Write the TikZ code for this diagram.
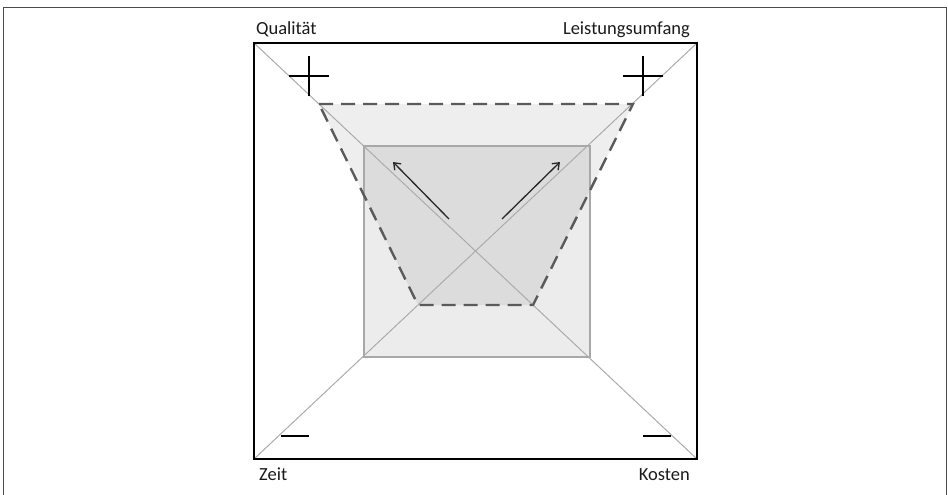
\documentclass[tikz,border=0pt]{standalone}
\usepackage{fontspec}
\setmainfont{Carlito}
\usetikzlibrary{arrows.meta}
\definecolor{diag}{HTML}{ABABAB}
\definecolor{rectborder}{HTML}{A8A8A8}
\definecolor{dashcol}{HTML}{5A5A5A}
\definecolor{txt}{HTML}{1A1A1A}
\tikzset{
  lbl/.style={inner sep=0pt, font=\fontsize{18.5}{21}\selectfont, text=txt},
  diagline/.style={draw=diag, line width=1pt},
  dashline/.style={draw=dashcol, line width=2.4pt, dash pattern=on 14pt off 8pt},
  arr/.style={draw=black!85, line width=1.3pt, -{Straight Barb[length=6pt,width=9pt]}},
  sign/.style={draw=black, line width=2.2pt},
}
\begin{document}
\begin{tikzpicture}[x=1pt,y=-1pt]
\useasboundingbox (0,0) rectangle (948,495);
% image frame
\draw[black!70, line width=1.2pt] (3.5,500) -- (3.5,7.5) -- (946.5,7.5) -- (946.5,500);
% outer square corners
\coordinate (TL) at (254,43);
\coordinate (TR) at (697,43);
\coordinate (BL) at (254,459);
\coordinate (BR) at (697,459);
% inner rectangle
\coordinate (iTL) at (364,146);
\coordinate (iBR) at (590,357);
% dashed trapezoid (vertices on diagonals)
\coordinate (pTL) at (319,104);
\coordinate (pTR) at (633,104);
\coordinate (pBR) at (533,305);
\coordinate (pBL) at (418,305);
% fills
\fill[black, opacity=0.065] (pTL) -- (pTR) -- (pBR) -- (pBL) -- cycle;
\fill[black, opacity=0.075] (iTL) rectangle (iBR);
\draw[rectborder, line width=2pt] (iTL) rectangle (iBR);
% diagonals
\draw[diagline] (TL) -- (BR);
\draw[diagline] (TR) -- (BL);
% dashed trapezoid
\draw[dashline] (pTL) -- (pTR) -- (pBR) -- (pBL) -- cycle;
% arrows
\coordinate (a1s) at (449,219);
\coordinate (a1e) at (393,162);
\coordinate (a2s) at (502,219);
\coordinate (a2e) at (560,162);
\draw[arr] (a1s) -- (a1e);
\draw[arr] (a2s) -- (a2e);
% plus signs
\coordinate (p1) at (309,76);
\coordinate (p2) at (643,76);
\draw[sign] ([xshift=-20pt]p1) -- ([xshift=20pt]p1);
\draw[sign] ([yshift=-20pt]p1) -- ([yshift=20pt]p1);
\draw[sign] ([xshift=-20pt]p2) -- ([xshift=20pt]p2);
\draw[sign] ([yshift=-20pt]p2) -- ([yshift=20pt]p2);
% minus signs
\coordinate (m1) at (295,436);
\coordinate (m2) at (657,436);
\draw[sign, line width=2.5pt] ([xshift=-14pt]m1) -- ([xshift=14pt]m1);
\draw[sign, line width=2.5pt] ([xshift=-14pt]m2) -- ([xshift=14pt]m2);
% outer square
\draw[black, line width=2.4pt] (TL) rectangle (BR);
% labels
\node[lbl, anchor=base west] (q) at (256,35) {Qualität};
\node[lbl, anchor=base east] (l) at (690,35) {Leistungsumfang};
\node[lbl, anchor=base west] (z) at (259,480) {Zeit};
\node[lbl, anchor=base east] (k) at (690,480) {Kosten};
\end{tikzpicture}
\end{document}
